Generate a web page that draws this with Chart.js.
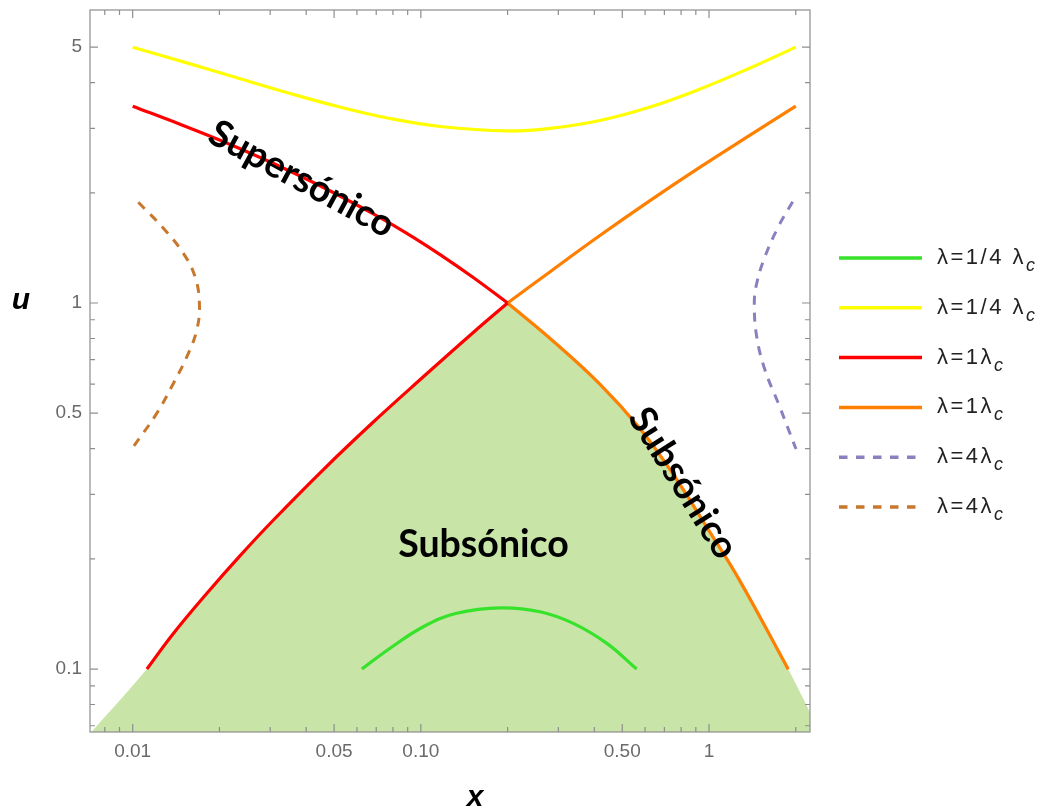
<!DOCTYPE html>
<html>
<head>
<meta charset="utf-8">
<script src="https://cdn.jsdelivr.net/npm/chart.js@4.4.1/dist/chart.umd.min.js"></script>
<style>
  html, body { margin: 0; padding: 0; background: #fff; }
</style>
</head>
<body>
<canvas id="grafico" width="1047" height="811"></canvas>
<script>
// ------------------- DATOS -------------------

// λ = 1/4 λc, rama subsónica (verde)
const verdeX = [0.0624, 0.0782, 0.102, 0.133, 0.19, 0.259, 0.338, 0.442, 0.561];
const verdeU = [0.1, 0.114, 0.1305, 0.142, 0.147, 0.1434, 0.1333, 0.1175, 0.1];

// λ = 1/4 λc, rama supersónica (amarillo)
const amarilloX = [0.01, 0.0154, 0.0236, 0.0352, 0.0524, 0.0782, 0.1166, 0.2, 0.281, 0.418, 0.624, 0.931, 1.388, 2.0];
const amarilloU = [5.0, 4.53, 4.1, 3.736, 3.431, 3.192, 3.035, 2.952, 3.0, 3.152, 3.431, 3.843, 4.386, 5.0];

// λ = λc (rojo: lado izquierdo del punto sónico)
const rojoSupX = [0.01, 0.0146, 0.0206, 0.0308, 0.0459, 0.0684, 0.0894, 0.1166, 0.152, 0.2];
const rojoSupU = [3.45, 3.08, 2.763, 2.405, 2.068, 1.751, 1.55, 1.356, 1.174, 1.0];
const rojoInfX = [0.0112, 0.0138, 0.0181, 0.0236, 0.0308, 0.0459, 0.0684, 0.102, 0.152, 0.2];
const rojoInfU = [0.1, 0.1247, 0.1611, 0.2041, 0.2554, 0.3508, 0.473, 0.6286, 0.8307, 1.0];

// λ = λc (naranja: lado derecho del punto sónico)
const naranjaSupX = [0.2, 0.281, 0.418, 0.624, 0.931, 1.388, 2.0];
const naranjaSupU = [1.0, 1.218, 1.529, 1.905, 2.351, 2.876, 3.451];
const naranjaInfX = [0.2, 0.281, 0.418, 0.576, 0.752, 0.982, 1.281, 1.884];
const naranjaInfU = [1.0, 0.8, 0.6006, 0.454, 0.34, 0.2443, 0.1739, 0.0998];

// λ = 4 λc (punteadas)
const moradoX = [1.951, 1.74, 1.564, 1.464, 1.436, 1.464, 1.564, 1.74, 2.004];
const moradoU = [1.891, 1.616, 1.339, 1.132, 1.0, 0.809, 0.656, 0.532, 0.399];
const marronX = [0.01046, 0.01278, 0.01499, 0.01646, 0.01704, 0.01669, 0.01541, 0.01384, 0.01212, 0.01];
const marronU = [1.884, 1.6, 1.367, 1.18, 1.0, 0.844, 0.713, 0.603, 0.4995, 0.4024];

// bordes de la zona sombreada donde toca el marco
const zonaBordeX = [0.0068, 2.43];
const zonaBordeU = [0.064, 0.0668];

// ejes
const xTickValores = [0.01, 0.05, 0.1, 0.5, 1];
const xTickEtiquetas = ['0.01', '0.05', '0.10', '0.50', '1'];
const xTickMenores = [0.008, 0.009, 0.02, 0.03, 0.04, 0.06, 0.07, 0.08, 0.09, 0.2, 0.3, 0.4, 0.6, 0.7, 0.8, 0.9, 2];
const uTickValores = [0.1, 0.5, 1, 5];
const uTickEtiquetas = ['0.1', '0.5', '1', '5'];
const uTickMenores = [0.07, 0.08, 0.09, 0.2, 0.3, 0.4, 0.6, 0.7, 0.8, 0.9, 2, 3, 4];

// textos sobre el gráfico
const anotaciones = [
    { texto: 'Supersónico', x: 0.0386, u: 2.18, angulo: 28.4 },
    { texto: 'Subsónico', x: 0.165, u: 0.218, angulo: 0 },
    { texto: 'Subsónico', x: 0.8125, u: 0.322, angulo: 57.7 }
];

// ------------------- FUNCIONES -------------------

const puntos = (xs, us) => xs.map((x, i) => ({ x, y: us[i] }));

function linea(label, xs, us, color, extra) {
    return Object.assign({
        label,
        data: puntos(xs, us),
        borderColor: color,
        borderWidth: 3.2,
        pointRadius: 0,
        tension: 0.4,
        fill: false,
        order: 1
    }, extra || {});
}

// zona subsónica: debajo de las dos ramas inferiores de λc
const zonaX = [zonaBordeX[0], ...rojoInfX, ...naranjaInfX, zonaBordeX[1]];
const zonaU = [zonaBordeU[0], ...rojoInfU, ...naranjaInfU, zonaBordeU[1]];

const GRIS = '#8e8e8e';

// Marco tipo Mathematica con ticks hacia adentro
const marcoPlugin = {
    id: 'marco',
    afterDatasetsDraw(chart) {
        const { ctx, chartArea: a, scales } = chart;
        ctx.save();
        ctx.strokeStyle = GRIS;
        ctx.lineWidth = 1.2;
        ctx.strokeRect(a.left, a.top, a.right - a.left, a.bottom - a.top);
        ctx.beginPath();
        const tx = (v, len) => {
            const p = scales.x.getPixelForValue(v);
            if (p < a.left || p > a.right) return;
            ctx.moveTo(p, a.bottom); ctx.lineTo(p, a.bottom - len);
            ctx.moveTo(p, a.top); ctx.lineTo(p, a.top + len);
        };
        const ty = (v, len) => {
            const p = scales.y.getPixelForValue(v);
            if (p < a.top || p > a.bottom) return;
            ctx.moveTo(a.left, p); ctx.lineTo(a.left + len, p);
            ctx.moveTo(a.right, p); ctx.lineTo(a.right - len, p);
        };
        xTickValores.forEach(v => tx(v, 8));
        xTickMenores.forEach(v => tx(v, 5));
        uTickValores.forEach(v => ty(v, 8));
        uTickMenores.forEach(v => ty(v, 5));
        ctx.stroke();
        ctx.restore();
    }
};

// Textos, títulos de ejes y leyenda
const textosPlugin = {
    id: 'textos',
    afterDraw(chart) {
        const { ctx, chartArea: a, scales } = chart;
        ctx.save();
        ctx.fillStyle = '#000';
        ctx.textAlign = 'center';
        ctx.textBaseline = 'middle';
        ctx.font = 'bold 37.5px Lato';
        anotaciones.forEach(t => {
            ctx.save();
            ctx.translate(scales.x.getPixelForValue(t.x), scales.y.getPixelForValue(t.u));
            ctx.rotate(t.angulo * Math.PI / 180);
            ctx.fillText(t.texto, 0, 0);
            ctx.restore();
        });

        // títulos de ejes
        ctx.font = 'bold italic 30px "Liberation Sans"';
        ctx.fillText('u', a.left - 69, scales.y.getPixelForValue(1) - 2);
        ctx.fillText('x', a.left + 385, a.bottom + 66);

        // leyenda
        const items = chart.data.datasets.filter(d => d.enLeyenda);
        const x0 = a.right + 29, x1 = a.right + 112, xt = a.right + 127;
        items.forEach((d, i) => {
            const y = 258 + i * 49.8;
            ctx.beginPath();
            ctx.setLineDash(d.borderDash ? [8.5, 8.5] : []);
            ctx.strokeStyle = d.borderColor;
            ctx.lineWidth = 3.5;
            ctx.moveTo(x0, y);
            ctx.lineTo(x1, y);
            ctx.stroke();
            ctx.setLineDash([]);
            const [base, sub] = d.label.split('_');
            ctx.fillStyle = '#222';
            ctx.textAlign = 'left';
            ctx.font = '22px "Liberation Sans"';
            ctx.letterSpacing = '2.5px';
            ctx.fillText(base, xt, y);
            const w = ctx.measureText(base).width;
            ctx.font = 'italic 18px "Liberation Sans"';
            ctx.letterSpacing = '0px';
            ctx.fillText(sub, xt + w, y + 8);
        });
        ctx.restore();
    }
};

const ctx = document.getElementById('grafico').getContext('2d');

new Chart(ctx, {
    type: 'line',
    data: {
        datasets: [
            linea('λ=1/4 λ_c', verdeX, verdeU, '#36e22a', { enLeyenda: true }),
            linea('λ=1/4 λ_c', amarilloX, amarilloU, '#ffff00', { enLeyenda: true }),
            linea('λ=1λ_c', rojoSupX, rojoSupU, '#ff0000', { enLeyenda: true }),
            linea('λ=1λ_c', rojoInfX, rojoInfU, '#ff0000'),
            linea('λ=1λ_c', naranjaSupX, naranjaSupU, '#ff7f00', { enLeyenda: true }),
            linea('λ=1λ_c', naranjaInfX, naranjaInfU, '#ff7f00'),
            linea('λ=4λ_c', moradoX, moradoU, '#8a80c0', { enLeyenda: true, borderDash: [9, 8], borderWidth: 3 }),
            linea('λ=4λ_c', marronX, marronU, '#c8782d', { enLeyenda: true, borderDash: [9, 8], borderWidth: 3 }),
            linea('zona', zonaX, zonaU, 'rgba(0,0,0,0)', {
                borderWidth: 0, fill: 'start', backgroundColor: 'rgb(200,228,167)', order: 10
            })
        ]
    },
    options: {
        responsive: false,
        animation: false,
        devicePixelRatio: 1,
        layout: { padding: { top: 10, right: 237, left: 0, bottom: 0 } },
        plugins: {
            legend: { display: false },
            tooltip: { enabled: false }
        },
        scales: {
            x: {
                type: 'logarithmic',
                min: 0.00711,
                max: 2.241,
                afterFit: s => { s.height = 79; s.paddingLeft = 0; s.paddingRight = 0; },
                afterBuildTicks: s => { s.ticks = xTickValores.map(v => ({ value: v })); },
                grid: { display: false, drawTicks: false },
                border: { display: false },
                ticks: {
                    callback: (v, i) => xTickEtiquetas[i],
                    autoSkip: false,
                    maxRotation: 0,
                    padding: 8,
                    color: '#6a6a6a',
                    font: { family: '"Liberation Sans"', size: 19 }
                }
            },
            y: {
                type: 'logarithmic',
                min: 0.0673,
                max: 6.317,
                afterFit: s => { s.width = 90; s.paddingTop = 0; s.paddingBottom = 0; },
                afterBuildTicks: s => { s.ticks = uTickValores.map(v => ({ value: v })); },
                grid: { display: false, drawTicks: false },
                border: { display: false },
                ticks: {
                    callback: (v, i) => uTickEtiquetas[i],
                    autoSkip: false,
                    padding: 8,
                    color: '#6a6a6a',
                    font: { family: '"Liberation Sans"', size: 19 }
                }
            }
        }
    },
    plugins: [marcoPlugin, textosPlugin]
});
</script>
</body>
</html>
